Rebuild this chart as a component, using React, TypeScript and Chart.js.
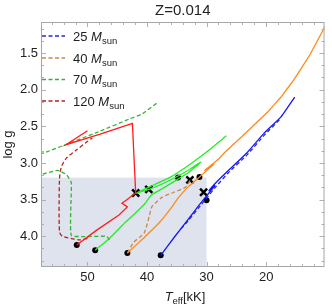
import React, { useEffect, useRef } from "react";
import { Chart, registerables } from "chart.js";
Chart.register(...registerables);

// ---------- text ----------
const chartTitle = "Z=0.014";
const massLabels = ["25", "40", "70", "120"];

// ---------- axes ----------
const xTickValues = [20, 30, 40, 50];
const yTickValues = [1.5, 2.0, 2.5, 3.0, 3.5, 4.0];
const xMinorStep = 2;
const yMinorStep = 0.5 / 3;
const teffMin = 10.2;
const teffMax = 57.8;
const loggMin = 1.076;
const loggMax = 4.42;

// shaded region (Teff >= 30, log g >= 3.2)
const shadeTeffLow = 30;
const shadeLoggLow = 3.2;

// ---------- 25 Msun ----------
const m25SolidTeff = [37.7, 35.2, 33.0, 31.3, 30.0, 28.6, 29.6, 28.2, 26.3, 23.2, 20.3, 17.5, 15.2];
const m25SolidLogg = [4.26, 3.99, 3.76, 3.58, 3.45, 3.31, 3.38, 3.25, 3.1, 2.86, 2.59, 2.37, 2.1];
const m25DashTeff = [34.3, 33.0, 31.3, 30.0, 28.5, 26.3, 23.2, 20.3, 17.5];
const m25DashLogg = [3.9, 3.78, 3.61, 3.48, 3.33, 3.13, 2.89, 2.62, 2.39];

// ---------- 40 Msun ----------
const m40SolidTeff = [43.3, 40.5, 38.0, 36.0, 34.7, 33.0, 31.3, 28.8, 30.3, 28.0, 27.0, 23.3, 19.7, 17.5, 15.3, 12.7, 10.0];
const m40SolidLogg = [4.23, 4.02, 3.82, 3.62, 3.47, 3.32, 3.2, 3.02, 3.1, 2.95, 2.86, 2.58, 2.3, 2.1, 1.86, 1.53, 1.12];
const m40DashTeff = [43.3, 42.2, 40.5, 39.6, 39.2, 37.5, 35.5, 33.5, 32.7];
const m40DashLogg = [4.23, 4.08, 3.96, 3.72, 3.6, 3.47, 3.4, 3.33, 3.23];

// ---------- 70 Msun ----------
const m70SolidTeff = [48.7, 46.3, 43.5, 41.5, 40.3, 39.3, 37.0, 34.8, 33.0, 31.0, 33.5, 37.0, 39.7, 41.8, 39.7, 36.0, 33.0, 30.0, 26.7];
const m70SolidLogg = [4.19, 4.03, 3.8, 3.65, 3.55, 3.44, 3.33, 3.22, 3.13, 2.99, 3.12, 3.27, 3.36, 3.41, 3.33, 3.19, 3.03, 2.85, 2.63];
const m70DashTeff = [46.3, 46.8, 52.7, 52.7, 53.5, 55.0, 57.9, 60.0, 60.0, 57.2, 48.0, 43.0, 40.8, 38.3];
const m70DashLogg = [4.05, 4.0, 3.99, 3.27, 3.16, 3.1, 3.16, 3.2, 2.93, 2.86, 2.57, 2.4, 2.33, 2.18];

// ---------- 120 Msun ----------
const m120SolidTeff = [51.8, 48.5, 44.7, 43.3, 44.2, 43.5, 41.9, 42.2, 42.45, 48.0, 53.6, 50.0];
const m120SolidLogg = [4.12, 3.92, 3.71, 3.6, 3.55, 3.51, 3.41, 2.9, 2.46, 2.61, 2.75, 2.56];
const m120DashTeff = [50.0, 51.3, 54.2, 54.7, 54.7, 54.4, 53.5, 51.8, 50.4, 49.2];
const m120DashLogg = [4.03, 4.05, 4.0, 3.94, 3.23, 3.06, 2.93, 2.82, 2.73, 2.66];

// ---------- markers ----------
const dotTeff = [51.8, 48.7, 43.3, 37.7, 34.8, 31.2, 30.0];
const dotLogg = [4.12, 4.19, 4.23, 4.26, 3.2, 3.19, 3.51];
const crossTeff = [41.9, 39.7, 32.8, 30.5];
const crossLogg = [3.41, 3.36, 3.23, 3.4];

const solidColors = ["#1616ff", "#ff8a1c", "#22ee22", "#ff1c1c"];
const dashColors = ["#2a2ad0", "#c88a4a", "#2fb52f", "#b42222"];

const FONT = "'Liberation Sans', Arial, sans-serif";

const pts = (xs: number[], ys: number[]) => xs.map((x, i) => ({ x, y: ys[i] }));

const lineDs = (label: string, xs: number[], ys: number[], color: string, dashed: boolean, tension = 0.2) => ({
  type: "line" as const,
  label,
  data: pts(xs, ys),
  borderColor: color,
  backgroundColor: color,
  borderWidth: 1.3,
  borderDash: dashed ? [4, 2.5] : [],
  pointRadius: 0,
  pointHoverRadius: 0,
  showLine: true,
  fill: false,
  tension,
});

const framePlugin = {
  id: "framePlugin",
  beforeDatasetsDraw(chart: any) {
    const { ctx, chartArea } = chart;
    const xs = chart.scales.x;
    const ys = chart.scales.y;
    const x0 = chartArea.left;
    const x1 = xs.getPixelForValue(shadeTeffLow);
    const y0 = ys.getPixelForValue(shadeLoggLow);
    const y1 = chartArea.bottom;
    ctx.save();
    ctx.fillStyle = "#dee3ed";
    ctx.fillRect(x0, y0, x1 - x0, y1 - y0);
    ctx.restore();
  },
  afterDatasetsDraw(chart: any) {
    const { ctx, chartArea } = chart;
    const xs = chart.scales.x;
    const ys = chart.scales.y;
    const { left, right, top, bottom } = chartArea;
    ctx.save();
    ctx.strokeStyle = "#a6a6a6";
    ctx.lineWidth = 1;
    ctx.strokeRect(left + 0.5, top + 0.5, right - left - 1, bottom - top - 1);
    ctx.strokeStyle = "#b0b0b0";
    for (let v = 10; v <= 58; v += xMinorStep) {
      const px = Math.round(xs.getPixelForValue(v)) + 0.5;
      if (px < left || px > right) continue;
      const major = v % 10 === 0;
      const len = major ? 5 : 3;
      ctx.beginPath();
      ctx.moveTo(px, bottom);
      ctx.lineTo(px, bottom - len);
      ctx.moveTo(px, top);
      ctx.lineTo(px, top + len);
      ctx.stroke();
    }
    for (let i = 0; i <= 30; i++) {
      const v = 1.0 + i * yMinorStep;
      const py = Math.round(ys.getPixelForValue(v)) + 0.5;
      if (py < top || py > bottom) continue;
      const major = i % 3 === 0;
      const len = major ? 5 : 3;
      ctx.beginPath();
      ctx.moveTo(left, py);
      ctx.lineTo(left + len, py);
      ctx.moveTo(right, py);
      ctx.lineTo(right - len, py);
      ctx.stroke();
    }
    ctx.restore();
  },
  afterDraw(chart: any) {
    const { ctx, chartArea } = chart;
    const { left, right, top, bottom } = chartArea;
    ctx.save();
    ctx.fillStyle = "#222";
    ctx.font = `15px ${FONT}`;
    ctx.textAlign = "center";
    ctx.textBaseline = "middle";
    ctx.fillText(chartTitle, (left + right) / 2, 11);

    const rowY = [36, 58, 79.5, 101];
    massLabels.forEach((m, i) => {
      const y = rowY[i];
      ctx.strokeStyle = dashColors[i];
      ctx.lineWidth = 1.3;
      ctx.setLineDash([4, 2.5]);
      ctx.beginPath();
      ctx.moveTo(left + 1, y);
      ctx.lineTo(left + 24, y);
      ctx.stroke();
      ctx.setLineDash([]);
      ctx.fillStyle = "#222";
      ctx.textAlign = "left";
      ctx.textBaseline = "alphabetic";
      ctx.font = `13px ${FONT}`;
      let x = left + 32;
      const base = y + 4.5;
      const t1 = m + " ";
      ctx.fillText(t1, x, base);
      x += ctx.measureText(t1).width;
      ctx.font = `italic 13px ${FONT}`;
      ctx.fillText("M", x, base);
      x += ctx.measureText("M").width;
      ctx.font = `9.5px ${FONT}`;
      ctx.fillText("sun", x, base + 3);
    });

    {
      ctx.fillStyle = "#222";
      ctx.textBaseline = "alphabetic";
      ctx.textAlign = "left";
      ctx.font = `italic 13px ${FONT}`;
      const wT = ctx.measureText("T").width;
      ctx.font = `9.5px ${FONT}`;
      const wE = ctx.measureText("eff").width;
      ctx.font = `13px ${FONT}`;
      const wK = ctx.measureText("[kK]").width;
      const total = wT + wE + wK;
      let x = 185 - total / 2;
      const base = 301;
      ctx.font = `italic 13px ${FONT}`;
      ctx.fillText("T", x, base);
      x += wT;
      ctx.font = `9.5px ${FONT}`;
      ctx.fillText("eff", x, base + 3);
      x += wE;
      ctx.font = `13px ${FONT}`;
      ctx.fillText("[kK]", x, base);
    }
    ctx.translate(8, (top + bottom) / 2);
    ctx.rotate(-Math.PI / 2);
    ctx.textAlign = "center";
    ctx.textBaseline = "middle";
    ctx.font = `13px ${FONT}`;
    ctx.fillText("log g", 0, 0);
    ctx.restore();
  },
};

export default function App() {
  const ref = useRef<HTMLCanvasElement | null>(null);
  useEffect(() => {
    document.body.style.margin = "0";
    const canvas = ref.current;
    if (!canvas) return;
    const datasets: any[] = [
      lineDs("120 solid", m120SolidTeff, m120SolidLogg, solidColors[3], false, 0),
      lineDs("120 dashed", m120DashTeff, m120DashLogg, dashColors[3], true, 0.25),
      lineDs("70 dashed", m70DashTeff, m70DashLogg, dashColors[2], true, 0.1),
      lineDs("70 solid", m70SolidTeff, m70SolidLogg, solidColors[2], false, 0.15),
      lineDs("40 solid", m40SolidTeff, m40SolidLogg, solidColors[1], false, 0.05),
      lineDs("40 dashed", m40DashTeff, m40DashLogg, dashColors[1], true, 0.2),
      lineDs("25 solid", m25SolidTeff, m25SolidLogg, solidColors[0], false, 0.1),
      lineDs("25 dashed", m25DashTeff, m25DashLogg, dashColors[0], true, 0.1),
      {
        type: "scatter",
        label: "dots",
        data: pts(dotTeff, dotLogg),
        pointStyle: "circle",
        pointRadius: 3,
        backgroundColor: "#000",
        borderColor: "#000",
        borderWidth: 0,
      },
      {
        type: "scatter",
        label: "crosses",
        data: pts(crossTeff, crossLogg),
        pointStyle: "crossRot",
        pointRadius: 5,
        backgroundColor: "#000",
        borderColor: "#000",
        borderWidth: 2.5,
      },
    ];
    const chart = new Chart(canvas, {
      type: "scatter",
      data: { datasets },
      options: {
        animation: false,
        responsive: false,
        devicePixelRatio: 1,
        layout: { padding: { top: 22, right: 4, left: 0, bottom: 0 } },
        plugins: { legend: { display: false }, tooltip: { enabled: false }, title: { display: false } },
        events: [],
        scales: {
          x: {
            type: "linear",
            reverse: true,
            min: teffMin,
            max: teffMax,
            grid: { display: false, drawTicks: false },
            border: { display: false },
            afterBuildTicks: (s: any) => {
              s.ticks = xTickValues.map((v) => ({ value: v }));
            },
            afterFit: (s: any) => {
              s.height = 39;
            },
            ticks: {
              padding: 3,
              color: "#222",
              font: { family: FONT, size: 13 },
              maxRotation: 0,
              callback: (v: any) => String(v),
            },
          },
          y: {
            type: "linear",
            reverse: true,
            min: loggMin,
            max: loggMax,
            grid: { display: false, drawTicks: false },
            border: { display: false },
            afterBuildTicks: (s: any) => {
              s.ticks = yTickValues.map((v) => ({ value: v }));
            },
            afterFit: (s: any) => {
              s.width = 41;
            },
            ticks: {
              padding: 3,
              color: "#222",
              font: { family: FONT, size: 13 },
              callback: (v: any) => Number(v).toFixed(1),
            },
          },
        },
      },
      plugins: [framePlugin],
    } as any);
    return () => chart.destroy();
  }, []);
  return (
    <div style={{ position: "absolute", left: 0, top: 0, width: 332, height: 306 }}>
      <canvas ref={ref} width={332} height={306} style={{ display: "block" }} />
    </div>
  );
}
